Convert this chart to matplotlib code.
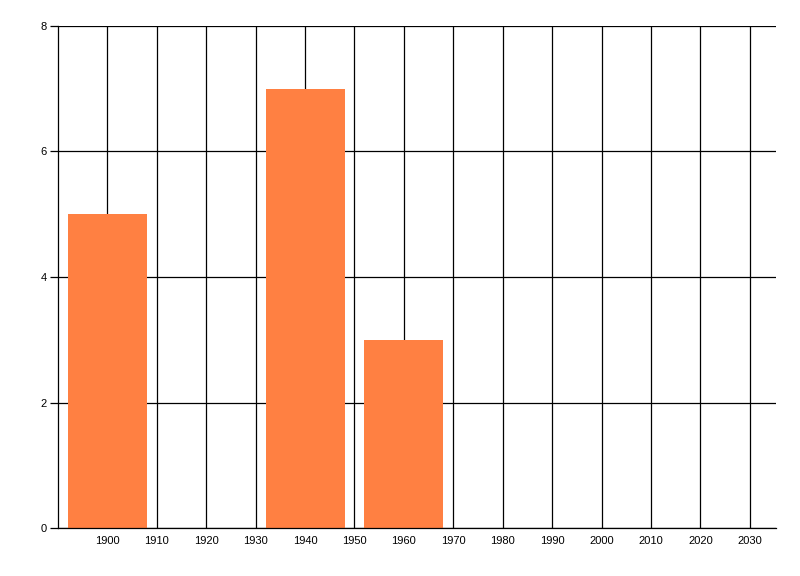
import matplotlib.pyplot as plt
import numpy as np

years = [1900, 1940, 1960]
counts = [5, 7, 3]
x_ticks = list(range(1900, 2031, 10))
y_ticks = [0, 2, 4, 6, 8]

plt.rcParams['font.family'] = ['Liberation Sans', 'DejaVu Sans']

fig = plt.figure(figsize=(8, 5.76), dpi=100)
ax = fig.add_axes([0.0725, 0.0833, 0.8975, 0.8716])

ax.set_axisbelow(True)
ax.bar(years, counts, width=16, color="#FF8042", zorder=2)

ax.set_xlim(1890, 2035.3)
ax.set_ylim(0, 8)
ax.set_xticks(x_ticks)
ax.set_yticks(y_ticks)

ax.grid(True, color="black", linewidth=0.9)
for side in ["top", "right"]:
    ax.spines[side].set_visible(False)
for side in ["left", "bottom"]:
    ax.spines[side].set_linewidth(0.9)

ax.tick_params(axis="x", length=0, pad=6, labelsize=8)
ax.tick_params(axis="y", length=6, width=0.9, pad=2, labelsize=8)

fig.savefig("out.png", dpi=100)
